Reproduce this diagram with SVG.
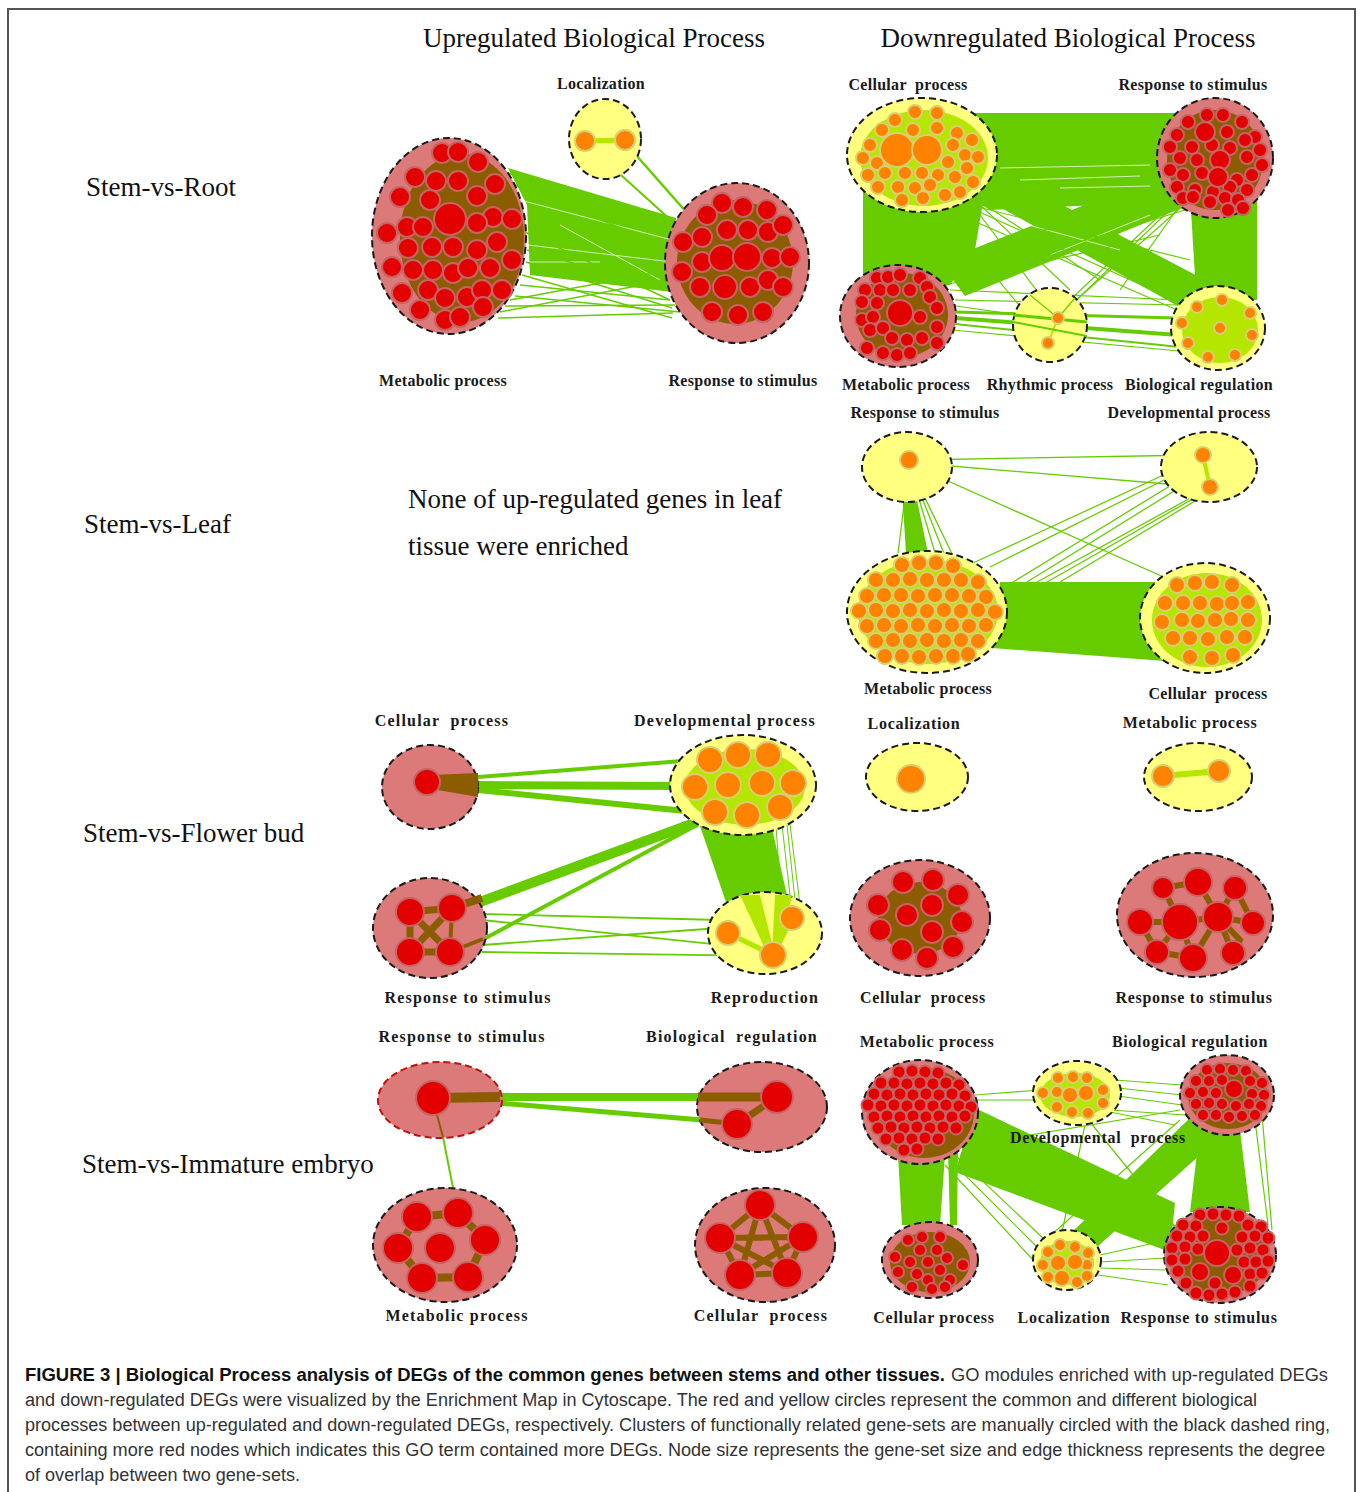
<svg xmlns="http://www.w3.org/2000/svg" width="1360" height="1492" viewBox="0 0 1360 1492">
<style>
.hp{fill:#dc7a7a;stroke:#1a1a1a;stroke-width:2;stroke-dasharray:7 4}
.hy{fill:#ffff80;stroke:#1a1a1a;stroke-width:2;stroke-dasharray:7 4}
.R{fill:#e20000;stroke:#c46464;stroke-width:2}
.O{fill:#ff8200;stroke:#d8d070;stroke-width:2}
.br{fill:#8c5c00}
.bl{stroke:#8c5c00;fill:none;stroke-linecap:butt}
.lg{fill:#b4e600}
.ll{stroke:#b4e600;fill:none}
.g{stroke:#66cc00;fill:none}
.gf{fill:#66cc00}
.wl{stroke:#ffffff;fill:none;stroke-opacity:0.7}
.lb{font-family:"Liberation Serif",serif;font-weight:bold;font-size:16px;text-anchor:middle;fill:#1a1a1a;letter-spacing:0.3px}
.lw{letter-spacing:1.2px}
.lm{letter-spacing:0.7px}
.tt{font-family:"Liberation Serif",serif;font-size:27px;fill:#111}
.cap{font-family:"Liberation Sans",Arial,sans-serif;font-size:18px;fill:#333}
.capb{font-family:"Liberation Sans",Arial,sans-serif;font-size:18px;font-weight:bold;fill:#111}
</style>
<rect x="8" y="9" width="1347" height="1500" fill="#fff" stroke="#555" stroke-width="2"/>

<g id="titles">
<text class="tt" x="594" y="47" text-anchor="middle">Upregulated Biological Process</text>
<text class="tt" x="1068" y="47" text-anchor="middle">Downregulated Biological Process</text>
<text class="tt" x="86" y="196">Stem-vs-Root</text>
<text class="tt" x="84" y="533">Stem-vs-Leaf</text>
<text class="tt" x="83" y="842">Stem-vs-Flower bud</text>
<text class="tt" x="82" y="1173">Stem-vs-Immature embryo</text>
<text class="tt" x="408" y="508">None of up-regulated genes in leaf</text>
<text class="tt" x="408" y="555">tissue were enriched</text>
</g>

<g id="connectors">
<!-- Row 1 up -->
<polygon class="gf" points="508,168 676,218 672,292 530,275 527,205"/>
<g class="wl" stroke-width="1">
<line x1="520" y1="200" x2="672" y2="240"/>
<line x1="528" y1="245" x2="672" y2="262"/>
<line x1="528" y1="262" x2="600" y2="262"/>
<line x1="560" y1="225" x2="660" y2="280"/>
</g>
<g class="g" stroke-width="1.5">
<line x1="505" y1="172" x2="680" y2="230"/>
<line x1="515" y1="185" x2="675" y2="250"/>
<line x1="525" y1="232" x2="670" y2="300"/>
<line x1="527" y1="250" x2="668" y2="290"/>
<line x1="526" y1="262" x2="672" y2="308"/>
<line x1="520" y1="285" x2="670" y2="300"/>
<line x1="515" y1="296" x2="680" y2="312"/>
<line x1="505" y1="306" x2="675" y2="305"/>
<line x1="498" y1="318" x2="673" y2="313"/>
<line x1="500" y1="312" x2="668" y2="280"/>
<line x1="510" y1="300" x2="670" y2="270"/>
<line x1="522" y1="275" x2="672" y2="318"/>
</g>
<line class="g" x1="590" y1="147" x2="684" y2="232" stroke-width="2"/>
<line class="g" x1="628" y1="146" x2="695" y2="222" stroke-width="2.5"/>

<!-- Row 1 down -->
<polygon class="gf" points="960,113 1180,113 1175,195 1100,205 990,210 965,195"/>
<polygon class="gf" points="863,170 985,190 975,250 950,285 863,300"/>
<polygon class="gf" points="962,186 1000,172 1205,280 1185,310"/>
<polygon class="gf" points="940,262 965,296 1182,208 1168,172"/>
<polygon class="gf" points="1190,195 1257,180 1257,300 1240,300 1196,292"/>
<g class="wl" stroke-width="1">
<line x1="1000" y1="168" x2="1150" y2="165"/>
<line x1="1020" y1="180" x2="1140" y2="176"/>
<line x1="1060" y1="188" x2="1150" y2="186"/>
<line x1="1010" y1="220" x2="1120" y2="250"/>
<line x1="1050" y1="255" x2="1150" y2="215"/>
</g>
<g class="g" stroke-width="1.2">
<line x1="970" y1="205" x2="1190" y2="260"/>
<line x1="975" y1="210" x2="1175" y2="300"/>
<line x1="960" y1="215" x2="1200" y2="320"/>
<line x1="950" y1="260" x2="1170" y2="190"/>
<line x1="955" y1="280" x2="1185" y2="210"/>
<line x1="945" y1="285" x2="1160" y2="235"/>
<line x1="965" y1="195" x2="1055" y2="315"/>
<line x1="940" y1="210" x2="1048" y2="340"/>
<line x1="975" y1="200" x2="1070" y2="290"/>
<line x1="985" y1="205" x2="1100" y2="280"/>
<line x1="1060" y1="316" x2="1180" y2="200"/>
<line x1="1065" y1="310" x2="1195" y2="195"/>
<line x1="1070" y1="300" x2="1160" y2="215"/>
<line x1="1120" y1="290" x2="1180" y2="205"/>
<line x1="956" y1="306" x2="1040" y2="318"/>
<line x1="952" y1="330" x2="1190" y2="352"/>
<line x1="955" y1="300" x2="1180" y2="305"/>
<line x1="950" y1="290" x2="1180" y2="300"/>
</g>
<line class="g" x1="955" y1="312" x2="1175" y2="318" stroke-width="3"/>
<line class="g" x1="955" y1="318" x2="1178" y2="335" stroke-width="4"/>
<line class="g" x1="955" y1="324" x2="1180" y2="347" stroke-width="2"/>

<!-- Row 2 down -->
<polygon class="gf" points="902,490 915,490 928,553 906,553"/>
<g class="g" stroke-width="1.3">
<line x1="909" y1="465" x2="898" y2="553"/>
<line x1="909" y1="465" x2="935" y2="553"/>
<line x1="909" y1="465" x2="945" y2="556"/>
<line x1="909" y1="465" x2="955" y2="560"/>
<line x1="915" y1="460" x2="1196" y2="455"/>
<line x1="915" y1="463" x2="1203" y2="487"/>
<line x1="912" y1="465" x2="1177" y2="583"/>
<line x1="1196" y1="460" x2="973" y2="563"/>
<line x1="1200" y1="462" x2="990" y2="567"/>
<line x1="1196" y1="470" x2="1013" y2="582"/>
<line x1="1200" y1="475" x2="1027" y2="582"/>
<line x1="1205" y1="490" x2="1037" y2="582"/>
<line x1="1205" y1="492" x2="1047" y2="582"/>
<line x1="1210" y1="492" x2="1060" y2="582"/>
</g>
<polygon class="gf" points="1000,582 1165,582 1165,661 992,648"/>

<!-- Row 3 up -->
<line class="g" x1="478" y1="777" x2="695" y2="760" stroke-width="4"/>
<line class="g" x1="478" y1="785" x2="690" y2="786" stroke-width="8"/>
<line class="g" x1="478" y1="790" x2="695" y2="812" stroke-width="6"/>
<line class="g" x1="480" y1="902" x2="697" y2="822" stroke-width="10"/>
<line class="g" x1="482" y1="940" x2="697" y2="825" stroke-width="4"/>
<g class="g" stroke-width="1.8">
<line x1="482" y1="914" x2="720" y2="920"/>
<line x1="482" y1="920" x2="770" y2="950"/>
<line x1="482" y1="945" x2="720" y2="928"/>
<line x1="482" y1="952" x2="775" y2="956"/>
</g>
<polygon class="gf" points="700,826 772,828 788,900 727,905"/>
<g class="g" stroke-width="1">
<line x1="782" y1="825" x2="790" y2="895"/>
<line x1="787" y1="825" x2="795" y2="900"/>
<line x1="776" y1="826" x2="781" y2="896"/>
<line x1="790" y1="824" x2="800" y2="905"/>
</g>

<!-- Row 4 up -->
<line class="g" x1="498" y1="1097" x2="700" y2="1097" stroke-width="8"/>
<line class="g" x1="498" y1="1103" x2="702" y2="1120" stroke-width="5"/>
<line class="g" x1="443" y1="1137" x2="455" y2="1198" stroke-width="2"/>

<!-- Row 4 down -->
<polygon class="gf" points="898,1155 945,1155 940,1225 902,1225"/>
<polygon class="gf" points="948,1150 958,1150 957,1225 950,1225"/>
<polygon class="gf" points="975,1108 1175,1203 1170,1252 955,1172"/>
<polygon class="gf" points="1192,1116 1228,1130 1097,1247 1068,1236"/>
<polygon class="gf" points="1200,1128 1240,1130 1250,1212 1190,1212"/>
<g class="g" stroke-width="1.2">
<line x1="975" y1="1095" x2="1040" y2="1090"/>
<line x1="975" y1="1100" x2="1040" y2="1100"/>
<line x1="1115" y1="1080" x2="1182" y2="1085"/>
<line x1="1118" y1="1088" x2="1182" y2="1095"/>
<line x1="1118" y1="1096" x2="1182" y2="1105"/>
<line x1="1110" y1="1110" x2="1185" y2="1115"/>
<line x1="1085" y1="1125" x2="1062" y2="1232"/>
<line x1="1090" y1="1122" x2="1178" y2="1230"/>
<line x1="1100" y1="1262" x2="1165" y2="1258"/>
<line x1="1100" y1="1268" x2="1165" y2="1270"/>
<line x1="1098" y1="1275" x2="1168" y2="1285"/>
<line x1="1100" y1="1255" x2="1168" y2="1240"/>
<line x1="950" y1="1160" x2="1040" y2="1250"/>
<line x1="955" y1="1155" x2="1045" y2="1240"/>
<line x1="945" y1="1165" x2="1035" y2="1262"/>
<line x1="1255" y1="1120" x2="1268" y2="1225"/>
<line x1="1262" y1="1115" x2="1272" y2="1230"/>
<line x1="1000" y1="1140" x2="1180" y2="1110"/>
<line x1="960" y1="1135" x2="1185" y2="1230"/>
<line x1="1100" y1="1110" x2="1175" y2="1125"/>
<line x1="1180" y1="1120" x2="1040" y2="1245"/>
<line x1="1185" y1="1125" x2="1100" y2="1240"/>
</g>
</g>

<!-- ================= Row 1 up ================= -->
<g id="r1u-localization">
<ellipse class="hy" cx="605" cy="139" rx="36" ry="40"/>
<line class="ll" x1="585" y1="141" x2="625" y2="140" stroke-width="5"/>
<circle class="O" cx="585" cy="141" r="10"/>
<circle class="O" cx="625" cy="140" r="10"/>
<text class="lb" x="601" y="89">Localization</text>
</g>
<g id="r1u-metabolic">
<ellipse class="hp" cx="449" cy="236" rx="77" ry="98"/>
<ellipse class="br" cx="462" cy="238" rx="62" ry="84"/>
<g class="R">
<circle cx="442" cy="153" r="10"/><circle cx="458" cy="152" r="10"/><circle cx="478" cy="162" r="10"/>
<circle cx="415" cy="177" r="10"/><circle cx="436" cy="181" r="10"/><circle cx="458" cy="181" r="10"/><circle cx="495" cy="184" r="10"/>
<circle cx="400" cy="197" r="10"/><circle cx="430" cy="200" r="10"/><circle cx="477" cy="196" r="10"/>
<circle cx="493" cy="217" r="10"/><circle cx="512" cy="219" r="10"/><circle cx="407" cy="227" r="10"/><circle cx="423" cy="227" r="10"/><circle cx="477" cy="223" r="10"/>
<circle cx="387" cy="233" r="10"/><circle cx="432" cy="247" r="10"/><circle cx="453" cy="247" r="10"/><circle cx="477" cy="250" r="10"/><circle cx="497" cy="242" r="10"/>
<circle cx="408" cy="248" r="10"/><circle cx="392" cy="267" r="10"/><circle cx="413" cy="270" r="10"/><circle cx="433" cy="270" r="10"/><circle cx="453" cy="273" r="10"/>
<circle cx="468" cy="268" r="10"/><circle cx="490" cy="268" r="10"/><circle cx="512" cy="260" r="10"/>
<circle cx="402" cy="293" r="10"/><circle cx="428" cy="290" r="10"/><circle cx="445" cy="298" r="10"/><circle cx="467" cy="297" r="10"/><circle cx="482" cy="290" r="10"/><circle cx="502" cy="290" r="10"/>
<circle cx="420" cy="310" r="10"/><circle cx="445" cy="320" r="10"/><circle cx="460" cy="317" r="10"/><circle cx="483" cy="307" r="10"/>
<circle cx="450" cy="219" r="16"/>
</g>
<text class="lb" x="443" y="386">Metabolic process</text>
</g>
<g id="r1u-response">
<ellipse class="hp" cx="737" cy="263" rx="72" ry="80"/>
<ellipse class="br" cx="735" cy="262" rx="58" ry="62"/>
<g class="R">
<circle cx="722" cy="203" r="10"/><circle cx="743" cy="207" r="10"/><circle cx="767" cy="210" r="10"/><circle cx="707" cy="215" r="10"/>
<circle cx="727" cy="230" r="10"/><circle cx="748" cy="230" r="10"/><circle cx="768" cy="232" r="10"/><circle cx="783" cy="225" r="10"/>
<circle cx="683" cy="242" r="10"/><circle cx="702" cy="237" r="10"/><circle cx="772" cy="258" r="10"/><circle cx="790" cy="257" r="10"/>
<circle cx="682" cy="272" r="10"/><circle cx="702" cy="262" r="10"/><circle cx="700" cy="287" r="10"/><circle cx="750" cy="287" r="10"/>
<circle cx="768" cy="280" r="10"/><circle cx="783" cy="287" r="10"/><circle cx="712" cy="312" r="10"/><circle cx="738" cy="315" r="10"/><circle cx="763" cy="312" r="10"/>
<circle cx="722" cy="258" r="13"/><circle cx="725" cy="287" r="12"/><circle cx="747" cy="257" r="14"/>
</g>
<text class="lb" x="743" y="386">Response to stimulus</text>
</g>

<!-- ================= Row 1 down ================= -->
<g id="r1d-cellular">
<ellipse class="hy" cx="922" cy="155" rx="75" ry="57"/>
<ellipse class="lg" cx="924" cy="158" rx="64" ry="48"/>
<g class="O">
<circle cx="915" cy="112" r="7"/><circle cx="937" cy="113" r="7"/><circle cx="895" cy="120" r="7"/><circle cx="913" cy="130" r="7"/>
<circle cx="937" cy="128" r="7"/><circle cx="882" cy="130" r="7"/><circle cx="957" cy="133" r="7"/><circle cx="870" cy="145" r="7"/>
<circle cx="972" cy="140" r="7"/><circle cx="953" cy="145" r="7"/><circle cx="863" cy="158" r="7"/><circle cx="877" cy="163" r="7"/>
<circle cx="965" cy="155" r="7"/><circle cx="978" cy="157" r="7"/><circle cx="948" cy="162" r="7"/><circle cx="868" cy="175" r="7"/>
<circle cx="885" cy="173" r="7"/><circle cx="905" cy="173" r="7"/><circle cx="922" cy="173" r="7"/><circle cx="938" cy="175" r="7"/>
<circle cx="955" cy="177" r="7"/><circle cx="967" cy="168" r="7"/><circle cx="973" cy="182" r="7"/><circle cx="878" cy="187" r="7"/>
<circle cx="898" cy="187" r="7"/><circle cx="915" cy="188" r="7"/><circle cx="930" cy="185" r="7"/><circle cx="945" cy="195" r="7"/>
<circle cx="960" cy="192" r="7"/><circle cx="902" cy="200" r="7"/><circle cx="923" cy="198" r="7"/>
<circle cx="897" cy="150" r="17"/><circle cx="927" cy="150" r="15"/>
</g>
<text class="lb" x="908" y="90" xml:space="preserve">Cellular  process</text>
</g>
<g id="r1d-response">
<ellipse class="hp" cx="1215" cy="158" rx="58" ry="60"/>
<ellipse class="br" cx="1215" cy="160" rx="48" ry="50"/>
<g class="R">
<circle cx="1207" cy="115" r="7"/><circle cx="1223" cy="115" r="7"/><circle cx="1188" cy="122" r="7"/><circle cx="1242" cy="122" r="7"/>
<circle cx="1177" cy="135" r="7"/><circle cx="1227" cy="132" r="7"/><circle cx="1255" cy="137" r="7"/><circle cx="1170" cy="147" r="7"/>
<circle cx="1192" cy="147" r="7"/><circle cx="1212" cy="145" r="7"/><circle cx="1230" cy="148" r="7"/><circle cx="1245" cy="140" r="7"/>
<circle cx="1260" cy="150" r="7"/><circle cx="1180" cy="158" r="7"/><circle cx="1197" cy="160" r="7"/><circle cx="1247" cy="157" r="7"/>
<circle cx="1262" cy="165" r="7"/><circle cx="1170" cy="170" r="7"/><circle cx="1183" cy="175" r="7"/><circle cx="1202" cy="173" r="7"/>
<circle cx="1237" cy="180" r="7"/><circle cx="1252" cy="175" r="7"/><circle cx="1177" cy="187" r="7"/><circle cx="1195" cy="190" r="7"/>
<circle cx="1213" cy="192" r="7"/><circle cx="1230" cy="187" r="7"/><circle cx="1247" cy="190" r="7"/><circle cx="1183" cy="198" r="7"/>
<circle cx="1193" cy="197" r="7"/><circle cx="1210" cy="202" r="7"/><circle cx="1225" cy="198" r="7"/><circle cx="1238" cy="200" r="7"/>
<circle cx="1228" cy="210" r="7"/><circle cx="1243" cy="208" r="7"/>
<circle cx="1205" cy="132" r="10"/><circle cx="1220" cy="160" r="10"/><circle cx="1218" cy="177" r="10"/>
</g>
<text class="lb" x="1193" y="90">Response to stimulus</text>
</g>
<g id="r1d-metabolic">
<ellipse class="hp" cx="898" cy="316" rx="58" ry="51"/>
<ellipse class="br" cx="902" cy="315" rx="46" ry="42"/>
<g class="R">
<circle cx="877" cy="278" r="7"/><circle cx="888" cy="277" r="7"/><circle cx="900" cy="275" r="7"/><circle cx="920" cy="278" r="7"/>
<circle cx="865" cy="290" r="7"/><circle cx="880" cy="290" r="7"/><circle cx="893" cy="290" r="7"/><circle cx="910" cy="290" r="7"/>
<circle cx="927" cy="287" r="7"/><circle cx="862" cy="302" r="7"/><circle cx="877" cy="303" r="7"/><circle cx="930" cy="297" r="7"/>
<circle cx="937" cy="308" r="7"/><circle cx="862" cy="320" r="7"/><circle cx="873" cy="317" r="7"/><circle cx="920" cy="317" r="7"/>
<circle cx="870" cy="330" r="7"/><circle cx="883" cy="328" r="7"/><circle cx="937" cy="327" r="7"/><circle cx="892" cy="338" r="7"/>
<circle cx="907" cy="340" r="7"/><circle cx="922" cy="338" r="7"/><circle cx="937" cy="343" r="7"/><circle cx="867" cy="348" r="7"/>
<circle cx="883" cy="353" r="7"/><circle cx="897" cy="355" r="7"/><circle cx="910" cy="353" r="7"/>
<circle cx="900" cy="313" r="13"/>
</g>
<text class="lb" x="906" y="390">Metabolic process</text>
</g>
<g id="r1d-rhythmic">
<ellipse class="hy" cx="1050" cy="325" rx="37" ry="37"/>
<line class="ll" x1="1058" y1="318" x2="1048" y2="343" stroke-width="2"/>
<line class="g" x1="1013" y1="315" x2="1087" y2="322" stroke-width="3"/>
<line class="g" x1="1013" y1="322" x2="1087" y2="336" stroke-width="2"/>
<line class="g" x1="1030" y1="295" x2="1058" y2="318" stroke-width="1.2"/>
<line class="g" x1="1075" y1="298" x2="1058" y2="318" stroke-width="1.2"/>
<circle class="O" cx="1058" cy="318" r="6"/>
<circle class="O" cx="1048" cy="343" r="6"/>
<text class="lb" x="1050" y="390">Rhythmic process</text>
</g>
<g id="r1d-bioreg">
<ellipse class="hy" cx="1218" cy="328" rx="47" ry="42"/>
<ellipse class="lg" cx="1220" cy="330" rx="38" ry="33"/>
<g class="O">
<circle cx="1222" cy="300" r="6"/><circle cx="1197" cy="307" r="6"/><circle cx="1250" cy="313" r="6"/><circle cx="1182" cy="323" r="6"/>
<circle cx="1220" cy="328" r="6"/><circle cx="1252" cy="335" r="6"/><circle cx="1188" cy="343" r="6"/><circle cx="1208" cy="357" r="6"/>
<circle cx="1235" cy="355" r="6"/>
</g>
<text class="lb" x="1199" y="390">Biological regulation</text>
</g>

<!-- ================= Row 2 down ================= -->
<g id="r2d-response">
<ellipse class="hy" cx="907" cy="467" rx="45" ry="35"/>
<circle class="O" cx="909" cy="460" r="9"/>
<text class="lb" x="925" y="418">Response to stimulus</text>
</g>
<g id="r2d-developmental">
<ellipse class="hy" cx="1209" cy="467" rx="48" ry="35"/>
<line class="ll" x1="1203" y1="455" x2="1210" y2="487" stroke-width="4"/>
<circle class="O" cx="1203" cy="455" r="8"/>
<circle class="O" cx="1210" cy="487" r="8"/>
<text class="lb" x="1189" y="418">Developmental process</text>
</g>
<g id="r2d-metabolic">
<ellipse class="hy" cx="927" cy="612" rx="80" ry="61"/>
<ellipse class="lg" cx="928" cy="612" rx="70" ry="52"/>
<g class="O">
<circle cx="902" cy="565" r="8"/><circle cx="919" cy="563" r="8"/><circle cx="936" cy="563" r="8"/><circle cx="953" cy="566" r="8"/>
<circle cx="876" cy="580" r="8"/><circle cx="893" cy="580" r="8"/><circle cx="910" cy="579" r="8"/><circle cx="927" cy="580" r="8"/><circle cx="944" cy="580" r="8"/><circle cx="961" cy="580" r="8"/><circle cx="978" cy="582" r="8"/>
<circle cx="867" cy="596" r="8"/><circle cx="884" cy="595" r="8"/><circle cx="901" cy="595" r="8"/><circle cx="918" cy="596" r="8"/><circle cx="935" cy="595" r="8"/><circle cx="952" cy="595" r="8"/><circle cx="969" cy="596" r="8"/><circle cx="986" cy="597" r="8"/>
<circle cx="859" cy="611" r="8"/><circle cx="876" cy="610" r="8"/><circle cx="893" cy="611" r="8"/><circle cx="910" cy="610" r="8"/><circle cx="927" cy="611" r="8"/><circle cx="944" cy="610" r="8"/><circle cx="961" cy="611" r="8"/><circle cx="978" cy="610" r="8"/><circle cx="995" cy="612" r="8"/>
<circle cx="867" cy="626" r="8"/><circle cx="884" cy="625" r="8"/><circle cx="901" cy="626" r="8"/><circle cx="918" cy="625" r="8"/><circle cx="935" cy="626" r="8"/><circle cx="952" cy="625" r="8"/><circle cx="969" cy="626" r="8"/><circle cx="986" cy="625" r="8"/>
<circle cx="876" cy="641" r="8"/><circle cx="893" cy="640" r="8"/><circle cx="910" cy="641" r="8"/><circle cx="927" cy="640" r="8"/><circle cx="944" cy="641" r="8"/><circle cx="961" cy="640" r="8"/><circle cx="978" cy="641" r="8"/>
<circle cx="885" cy="656" r="8"/><circle cx="902" cy="656" r="8"/><circle cx="919" cy="657" r="8"/><circle cx="936" cy="656" r="8"/><circle cx="953" cy="656" r="8"/><circle cx="968" cy="654" r="8"/>
</g>
<text class="lb" x="928" y="694">Metabolic process</text>
</g>
<g id="r2d-cellular">
<ellipse class="hy" cx="1205" cy="618" rx="65" ry="55"/>
<ellipse class="lg" cx="1207" cy="620" rx="55" ry="47"/>
<g class="O">
<circle cx="1177" cy="585" r="8"/><circle cx="1195" cy="583" r="8"/><circle cx="1212" cy="582" r="8"/><circle cx="1232" cy="585" r="8"/>
<circle cx="1165" cy="603" r="8"/><circle cx="1183" cy="603" r="8"/><circle cx="1200" cy="603" r="8"/><circle cx="1217" cy="604" r="8"/><circle cx="1232" cy="603" r="8"/><circle cx="1248" cy="602" r="8"/>
<circle cx="1162" cy="622" r="8"/><circle cx="1182" cy="620" r="8"/><circle cx="1198" cy="621" r="8"/><circle cx="1215" cy="620" r="8"/><circle cx="1231" cy="619" r="8"/><circle cx="1248" cy="620" r="8"/>
<circle cx="1173" cy="638" r="8"/><circle cx="1190" cy="638" r="8"/><circle cx="1208" cy="639" r="8"/><circle cx="1227" cy="637" r="8"/><circle cx="1245" cy="637" r="8"/>
<circle cx="1190" cy="657" r="8"/><circle cx="1212" cy="658" r="8"/><circle cx="1233" cy="655" r="8"/>
</g>
<text class="lb" x="1208" y="699" xml:space="preserve">Cellular  process</text>
</g>

<!-- ================= Row 3 up ================= -->
<g id="r3u-cellular">
<ellipse class="hp" cx="430" cy="787" rx="48" ry="42"/>
<polygon class="br" points="432,775 478,773 478,797 432,789"/>
<circle class="R" cx="427" cy="782" r="13"/>
<text class="lb lw" x="442" y="726" xml:space="preserve">Cellular  process</text>
</g>
<g id="r3u-developmental">
<ellipse class="hy" cx="743" cy="785" rx="73" ry="50"/>
<ellipse class="lg" cx="745" cy="787" rx="60" ry="38"/>
<g class="O">
<circle cx="710" cy="760" r="13"/><circle cx="738" cy="755" r="13"/><circle cx="768" cy="755" r="13"/>
<circle cx="695" cy="787" r="13"/><circle cx="728" cy="785" r="13"/><circle cx="762" cy="783" r="13"/><circle cx="793" cy="783" r="13"/>
<circle cx="715" cy="812" r="13"/><circle cx="747" cy="815" r="13"/><circle cx="780" cy="807" r="13"/>
</g>
<text class="lb lw" x="725" y="726">Developmental process</text>
</g>
<g id="r3u-response">
<ellipse class="hp" cx="430" cy="928" rx="57" ry="50"/>
<g class="bl">
<line x1="410" y1="912" x2="452" y2="908" stroke-width="7"/>
<line x1="410" y1="912" x2="410" y2="952" stroke-width="7"/>
<line x1="452" y1="908" x2="450" y2="952" stroke-width="4"/>
<line x1="410" y1="952" x2="450" y2="952" stroke-width="7"/>
<line x1="410" y1="912" x2="450" y2="952" stroke-width="7"/>
<line x1="452" y1="908" x2="410" y2="952" stroke-width="7"/>
<line x1="452" y1="908" x2="482" y2="898" stroke-width="8"/>
<line x1="450" y1="952" x2="483" y2="939" stroke-width="4"/>
</g>
<g class="R">
<circle cx="410" cy="912" r="14"/><circle cx="452" cy="908" r="14"/><circle cx="410" cy="952" r="14"/><circle cx="450" cy="952" r="14"/>
</g>
<text class="lb lw" x="468" y="1003">Response to stimulus</text>
</g>
<g id="r3u-reproduction">
<ellipse class="hy" cx="765" cy="933" rx="57" ry="41"/>
<polygon class="lg" points="740,895 760,895 775,955 768,955"/>
<polygon class="lg" points="775,895 792,895 779,955 772,955"/>
<g class="ll" stroke-width="5">
<line x1="728" y1="933" x2="773" y2="955"/>
<line x1="792" y1="918" x2="773" y2="955"/>
</g>
<g class="O">
<circle cx="792" cy="918" r="12"/><circle cx="728" cy="933" r="12"/><circle cx="773" cy="955" r="13"/>
</g>
<text class="lb lw" x="765" y="1003">Reproduction</text>
</g>

<!-- ================= Row 3 down ================= -->
<g id="r3d-localization">
<ellipse class="hy" cx="917" cy="777" rx="51" ry="34"/>
<circle class="O" cx="911" cy="779" r="14"/>
<text class="lb lm" x="914" y="729">Localization</text>
</g>
<g id="r3d-metabolic">
<ellipse class="hy" cx="1198" cy="777" rx="54" ry="34"/>
<line class="ll" x1="1163" y1="776" x2="1219" y2="771" stroke-width="6"/>
<circle class="O" cx="1163" cy="776" r="11"/>
<circle class="O" cx="1219" cy="771" r="11"/>
<text class="lb lm" x="1190" y="728">Metabolic process</text>
</g>
<g id="r3d-cellular">
<ellipse class="hp" cx="920" cy="918" rx="70" ry="58"/>
<ellipse class="br" cx="920" cy="918" rx="42" ry="36"/>
<g class="R">
<circle cx="903" cy="882" r="11"/><circle cx="933" cy="880" r="11"/><circle cx="958" cy="895" r="11"/><circle cx="878" cy="905" r="11"/>
<circle cx="932" cy="905" r="11"/><circle cx="907" cy="915" r="11"/><circle cx="962" cy="922" r="11"/><circle cx="880" cy="930" r="11"/>
<circle cx="932" cy="932" r="11"/><circle cx="902" cy="950" r="11"/><circle cx="953" cy="947" r="11"/><circle cx="927" cy="958" r="11"/>
</g>
<text class="lb lm" x="923" y="1003" xml:space="preserve">Cellular  process</text>
</g>
<g id="r3d-response">
<ellipse class="hp" cx="1195" cy="915" rx="78" ry="62"/>
<g class="bl" stroke-width="6">
<polyline points="1163,888 1180,922 1157,952"/>
<polyline points="1198,882 1218,917 1235,888"/>
<polyline points="1140,922 1180,922 1218,917 1253,923"/>
<polyline points="1193,958 1218,917 1233,953"/>
<polyline points="1180,922 1193,958"/>
<polyline points="1163,888 1198,882"/>
<polyline points="1218,917 1240,940 1233,953"/>
<polyline points="1235,888 1253,923"/>
<polyline points="1140,922 1157,952 1193,958"/>
</g>
<g class="R">
<circle cx="1163" cy="888" r="11"/><circle cx="1198" cy="882" r="14"/><circle cx="1235" cy="888" r="12"/><circle cx="1140" cy="922" r="13"/>
<circle cx="1180" cy="922" r="18"/><circle cx="1218" cy="917" r="15"/><circle cx="1253" cy="923" r="12"/><circle cx="1157" cy="952" r="12"/>
<circle cx="1193" cy="958" r="14"/><circle cx="1233" cy="953" r="12"/>
</g>
<text class="lb lm" x="1194" y="1003">Response to stimulus</text>
</g>

<!-- ================= Row 4 up ================= -->
<g id="r4u-response">
<ellipse class="hp" cx="440" cy="1100" rx="62" ry="38" style="stroke:#c01010"/>
<line class="bl" x1="433" y1="1098" x2="500" y2="1097" stroke-width="10"/>
<line class="bl" x1="437" y1="1115" x2="443" y2="1137" stroke-width="2"/>
<circle class="R" cx="433" cy="1098" r="17"/>
<text class="lb lw" x="462" y="1042">Response to stimulus</text>
</g>
<g id="r4u-bioreg">
<ellipse class="hp" cx="762" cy="1107" rx="65" ry="45"/>
<line class="bl" x1="698" y1="1097" x2="777" y2="1097" stroke-width="9"/>
<line class="bl" x1="700" y1="1120" x2="737" y2="1124" stroke-width="5"/>
<line class="bl" x1="777" y1="1097" x2="737" y2="1124" stroke-width="7"/>
<circle class="R" cx="777" cy="1097" r="16"/>
<circle class="R" cx="737" cy="1124" r="15"/>
<text class="lb lw" x="732" y="1042" xml:space="preserve">Biological  regulation</text>
</g>
<g id="r4u-metabolic">
<ellipse class="hp" cx="445" cy="1245" rx="72" ry="57"/>
<polygon class="bl" points="417,1217 458,1213 485,1240 468,1277 422,1278 398,1248" stroke-width="8"/>
<g class="R">
<circle cx="417" cy="1217" r="15"/><circle cx="458" cy="1213" r="15"/><circle cx="398" cy="1248" r="15"/><circle cx="440" cy="1248" r="15"/>
<circle cx="485" cy="1240" r="15"/><circle cx="422" cy="1278" r="15"/><circle cx="468" cy="1277" r="15"/>
</g>
<text class="lb lw" x="457" y="1321">Metabolic process</text>
</g>
<g id="r4u-cellular">
<ellipse class="hp" cx="765" cy="1245" rx="70" ry="57"/>
<g class="bl" stroke-width="6">
<polygon points="760,1205 803,1237 787,1273 740,1275 720,1238"/>
<polygon points="760,1205 787,1273 720,1238 803,1237 740,1275"/>
</g>
<g class="R">
<circle cx="760" cy="1205" r="15"/><circle cx="720" cy="1238" r="15"/><circle cx="803" cy="1237" r="15"/><circle cx="740" cy="1275" r="15"/><circle cx="787" cy="1273" r="15"/>
</g>
<text class="lb lw" x="761" y="1321" xml:space="preserve">Cellular  process</text>
</g>

<!-- ================= Row 4 down ================= -->
<g id="r4d-metabolic">
<ellipse class="hp" cx="920" cy="1112" rx="58" ry="52"/>
<ellipse class="br" cx="924" cy="1113" rx="50" ry="45"/>
<g class="R">
<circle cx="899" cy="1072" r="6.5"/><circle cx="912" cy="1071" r="6.5"/><circle cx="925" cy="1072" r="6.5"/><circle cx="938" cy="1073" r="6.5"/>
<circle cx="881" cy="1083" r="6.5"/><circle cx="894" cy="1083" r="6.5"/><circle cx="907" cy="1084" r="6.5"/><circle cx="920" cy="1083" r="6.5"/><circle cx="933" cy="1084" r="6.5"/><circle cx="946" cy="1083" r="6.5"/><circle cx="959" cy="1085" r="6.5"/>
<circle cx="874" cy="1094" r="6.5"/><circle cx="887" cy="1095" r="6.5"/><circle cx="900" cy="1094" r="6.5"/><circle cx="913" cy="1095" r="6.5"/><circle cx="926" cy="1094" r="6.5"/><circle cx="939" cy="1095" r="6.5"/><circle cx="952" cy="1094" r="6.5"/><circle cx="965" cy="1096" r="6.5"/>
<circle cx="868" cy="1105" r="6.5"/><circle cx="881" cy="1106" r="6.5"/><circle cx="894" cy="1105" r="6.5"/><circle cx="907" cy="1106" r="6.5"/><circle cx="920" cy="1105" r="6.5"/><circle cx="933" cy="1106" r="6.5"/><circle cx="946" cy="1105" r="6.5"/><circle cx="959" cy="1106" r="6.5"/><circle cx="971" cy="1107" r="6.5"/>
<circle cx="874" cy="1117" r="6.5"/><circle cx="887" cy="1116" r="6.5"/><circle cx="900" cy="1117" r="6.5"/><circle cx="913" cy="1116" r="6.5"/><circle cx="926" cy="1117" r="6.5"/><circle cx="939" cy="1116" r="6.5"/><circle cx="952" cy="1117" r="6.5"/><circle cx="965" cy="1116" r="6.5"/>
<circle cx="878" cy="1128" r="6.5"/><circle cx="891" cy="1127" r="6.5"/><circle cx="904" cy="1128" r="6.5"/><circle cx="917" cy="1127" r="6.5"/><circle cx="930" cy="1128" r="6.5"/><circle cx="943" cy="1127" r="6.5"/><circle cx="956" cy="1128" r="6.5"/>
<circle cx="886" cy="1139" r="6.5"/><circle cx="899" cy="1138" r="6.5"/><circle cx="912" cy="1139" r="6.5"/><circle cx="925" cy="1138" r="6.5"/><circle cx="938" cy="1139" r="6.5"/>
<circle cx="904" cy="1150" r="6.5"/><circle cx="917" cy="1149" r="6.5"/>
</g>
<text class="lb lm" x="927" y="1047">Metabolic process</text>
</g>
<g id="r4d-developmental">
<ellipse class="hy" cx="1077" cy="1093" rx="44" ry="32"/>
<ellipse class="lg" cx="1075" cy="1095" rx="35" ry="22"/>
<g class="O">
<circle cx="1058" cy="1078" r="6"/><circle cx="1073" cy="1077" r="6"/><circle cx="1087" cy="1078" r="6"/><circle cx="1043" cy="1093" r="6"/>
<circle cx="1057" cy="1092" r="6"/><circle cx="1103" cy="1090" r="6"/><circle cx="1057" cy="1107" r="6"/><circle cx="1072" cy="1112" r="6"/>
<circle cx="1088" cy="1113" r="6"/><circle cx="1103" cy="1103" r="6"/>
<circle cx="1070" cy="1095" r="8"/><circle cx="1086" cy="1093" r="8"/>
</g>
</g>
<g id="r4d-bioreg">
<ellipse class="hp" cx="1227" cy="1095" rx="47" ry="40"/>
<ellipse class="br" cx="1228" cy="1096" rx="40" ry="33"/>
<g class="R">
<circle cx="1207" cy="1070" r="6"/><circle cx="1220" cy="1069" r="6"/><circle cx="1233" cy="1070" r="6"/><circle cx="1246" cy="1071" r="6"/>
<circle cx="1196" cy="1081" r="6"/><circle cx="1209" cy="1081" r="6"/><circle cx="1222" cy="1080" r="6"/><circle cx="1250" cy="1081" r="6"/><circle cx="1262" cy="1083" r="6"/>
<circle cx="1190" cy="1093" r="6"/><circle cx="1203" cy="1092" r="6"/><circle cx="1216" cy="1093" r="6"/><circle cx="1252" cy="1094" r="6"/><circle cx="1264" cy="1095" r="6"/>
<circle cx="1196" cy="1104" r="6"/><circle cx="1209" cy="1103" r="6"/><circle cx="1222" cy="1104" r="6"/><circle cx="1236" cy="1106" r="6"/><circle cx="1249" cy="1104" r="6"/><circle cx="1261" cy="1106" r="6"/>
<circle cx="1203" cy="1115" r="6"/><circle cx="1216" cy="1115" r="6"/><circle cx="1229" cy="1117" r="6"/><circle cx="1242" cy="1116" r="6"/><circle cx="1255" cy="1115" r="6"/>
<circle cx="1234" cy="1089" r="9"/>
</g>
<text class="lb lm" x="1190" y="1047">Biological regulation</text>
</g>
<g id="r4d-cellular">
<ellipse class="hp" cx="930" cy="1260" rx="48" ry="38"/>
<ellipse class="br" cx="930" cy="1262" rx="40" ry="30"/>
<g class="R">
<circle cx="908" cy="1240" r="6"/><circle cx="922" cy="1237" r="6"/><circle cx="940" cy="1237" r="6"/><circle cx="920" cy="1250" r="6"/>
<circle cx="937" cy="1250" r="6"/><circle cx="895" cy="1257" r="6"/><circle cx="910" cy="1262" r="6"/><circle cx="928" cy="1262" r="6"/>
<circle cx="947" cy="1258" r="6"/><circle cx="963" cy="1265" r="6"/><circle cx="898" cy="1272" r="6"/><circle cx="917" cy="1274" r="6"/>
<circle cx="940" cy="1270" r="6"/><circle cx="928" cy="1280" r="6"/><circle cx="950" cy="1280" r="6"/><circle cx="912" cy="1287" r="6"/>
<circle cx="932" cy="1289" r="6"/><circle cx="945" cy="1287" r="6"/>
</g>
<text class="lb lm" x="934" y="1323">Cellular process</text>
</g>
<g id="r4d-localization">
<ellipse class="hy" cx="1067" cy="1260" rx="34" ry="30"/>
<ellipse class="lg" cx="1067" cy="1263" rx="27" ry="22"/>
<g class="O">
<circle cx="1048" cy="1252" r="6"/><circle cx="1060" cy="1245" r="6"/><circle cx="1075" cy="1247" r="6"/><circle cx="1088" cy="1253" r="6"/>
<circle cx="1043" cy="1265" r="6"/><circle cx="1087" cy="1265" r="6"/><circle cx="1048" cy="1277" r="6"/><circle cx="1077" cy="1282" r="6"/>
<circle cx="1087" cy="1276" r="6"/>
<circle cx="1058" cy="1263" r="8"/><circle cx="1075" cy="1262" r="8"/><circle cx="1062" cy="1278" r="8"/>
</g>
<text class="lb lm" x="1064" y="1323">Localization</text>
</g>
<g id="r4d-response">
<ellipse class="hp" cx="1220" cy="1255" rx="56" ry="48"/>
<ellipse class="br" cx="1220" cy="1256" rx="48" ry="40"/>
<g class="R">
<circle cx="1200" cy="1215" r="6.5"/><circle cx="1213" cy="1214" r="6.5"/><circle cx="1226" cy="1215" r="6.5"/><circle cx="1239" cy="1216" r="6.5"/>
<circle cx="1183" cy="1225" r="6.5"/><circle cx="1196" cy="1226" r="6.5"/><circle cx="1222" cy="1228" r="6.5"/><circle cx="1248" cy="1225" r="6.5"/><circle cx="1261" cy="1227" r="6.5"/>
<circle cx="1177" cy="1236" r="6.5"/><circle cx="1190" cy="1237" r="6.5"/><circle cx="1203" cy="1236" r="6.5"/><circle cx="1242" cy="1237" r="6.5"/><circle cx="1255" cy="1236" r="6.5"/><circle cx="1268" cy="1238" r="6.5"/>
<circle cx="1172" cy="1248" r="6.5"/><circle cx="1185" cy="1247" r="6.5"/><circle cx="1198" cy="1249" r="6.5"/><circle cx="1237" cy="1250" r="6.5"/><circle cx="1250" cy="1248" r="6.5"/><circle cx="1263" cy="1250" r="6.5"/>
<circle cx="1172" cy="1260" r="6.5"/><circle cx="1185" cy="1259" r="6.5"/><circle cx="1244" cy="1262" r="6.5"/><circle cx="1256" cy="1262" r="6.5"/><circle cx="1268" cy="1261" r="6.5"/>
<circle cx="1178" cy="1271" r="6.5"/><circle cx="1250" cy="1274" r="6.5"/><circle cx="1262" cy="1273" r="6.5"/>
<circle cx="1186" cy="1283" r="6.5"/><circle cx="1215" cy="1283" r="6.5"/><circle cx="1250" cy="1286" r="6.5"/>
<circle cx="1196" cy="1293" r="6.5"/><circle cx="1209" cy="1295" r="6.5"/><circle cx="1222" cy="1294" r="6.5"/><circle cx="1235" cy="1292" r="6.5"/>
<circle cx="1217" cy="1253" r="13"/><circle cx="1233" cy="1275" r="9"/><circle cx="1200" cy="1272" r="9"/>
</g>
<text class="lb lm" x="1199" y="1323">Response to stimulus</text>
</g>
<text class="lb lm" x="1098" y="1143" xml:space="preserve">Developmental  process</text>

<g id="caption">
<text class="capb" x="25" y="1381" textLength="920" lengthAdjust="spacingAndGlyphs">FIGURE 3 | Biological Process analysis of DEGs of the common genes between stems and other tissues.</text>
<text class="cap" x="951" y="1381" textLength="377" lengthAdjust="spacingAndGlyphs">GO modules enriched with up-regulated DEGs</text>
<text class="cap" x="25" y="1406" textLength="1232" lengthAdjust="spacingAndGlyphs">and down-regulated DEGs were visualized by the Enrichment Map in Cytoscape. The red and yellow circles represent the common and different biological</text>
<text class="cap" x="25" y="1431" textLength="1305" lengthAdjust="spacingAndGlyphs">processes between up-regulated and down-regulated DEGs, respectively. Clusters of functionally related gene-sets are manually circled with the black dashed ring,</text>
<text class="cap" x="25" y="1456" textLength="1300" lengthAdjust="spacingAndGlyphs">containing more red nodes which indicates this GO term contained more DEGs. Node size represents the gene-set size and edge thickness represents the degree</text>
<text class="cap" x="25" y="1481" textLength="275" lengthAdjust="spacingAndGlyphs">of overlap between two gene-sets.</text>
</g>
</svg>
